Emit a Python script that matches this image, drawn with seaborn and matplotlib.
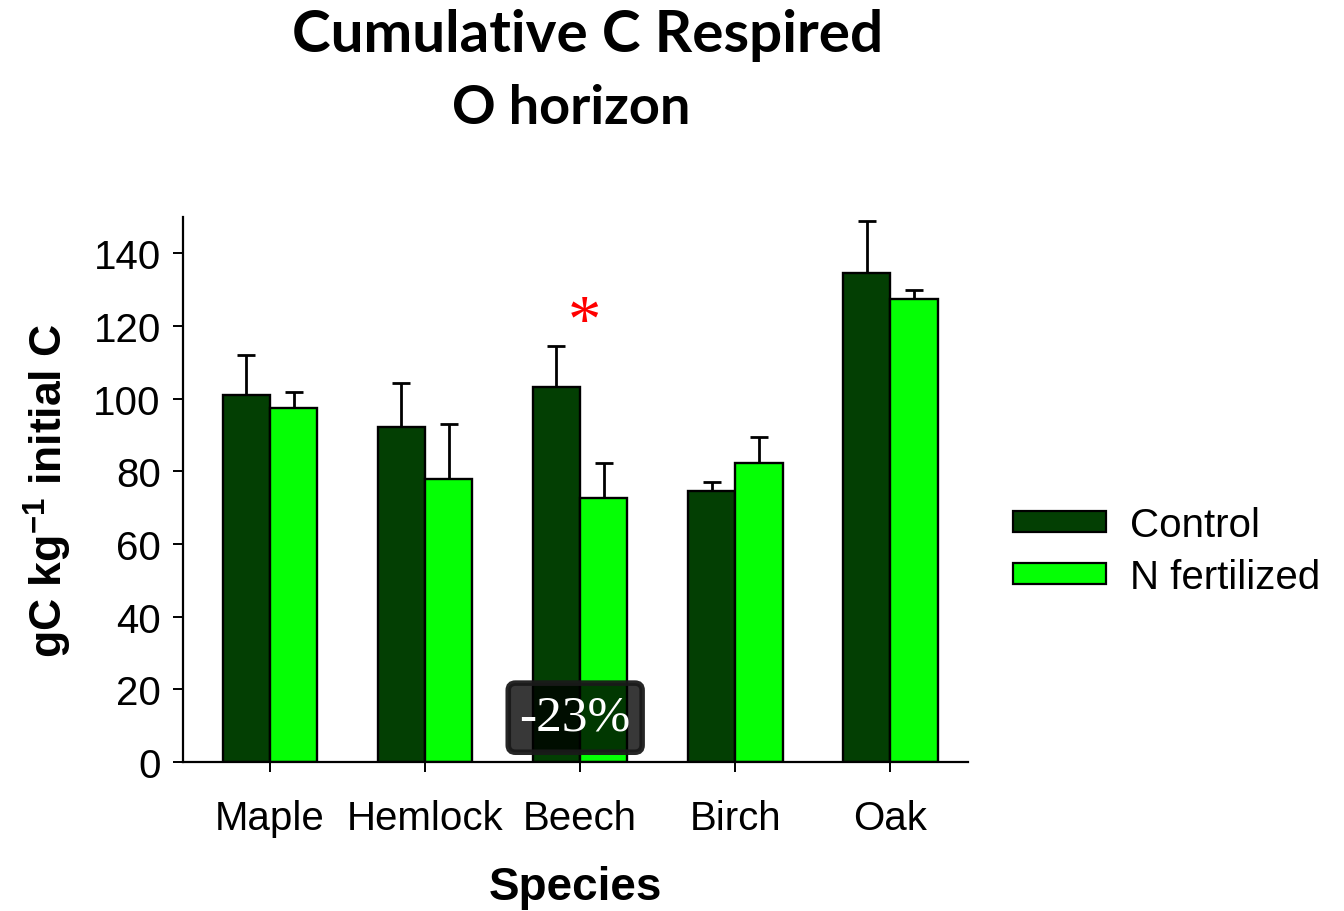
import numpy as np
import pandas as pd
import matplotlib
matplotlib.use("Agg")
import matplotlib.pyplot as plt
from matplotlib.patches import Patch
import seaborn as sns

species = ["Maple", "Hemlock", "Beech", "Birch", "Oak"]
treatments = ["Control", "N fertilized"]
control_mean = [101.1, 92.3, 103.1, 74.5, 134.7]
control_err = [10.8, 11.9, 11.3, 2.7, 14.3]
nfert_mean = [97.3, 78.0, 72.7, 82.4, 127.4]
nfert_err = [4.4, 15.1, 9.7, 7.1, 2.5]
colors = ["#033f03", "#05ff05"]
yticks = [0, 20, 40, 60, 80, 100, 120, 140]

sns.set_theme(style="ticks")
plt.rcParams["font.family"] = ["Liberation Sans", "DejaVu Sans"]
plt.rcParams.update({
    "text.color": "black", "axes.labelcolor": "black",
    "xtick.color": "black", "ytick.color": "black",
    "mathtext.fontset": "custom",
    "mathtext.rm": "Liberation Sans",
    "mathtext.bf": "Liberation Sans:bold",
})

df = pd.DataFrame({
    "Species": species * 2,
    "Treatment": [treatments[0]] * 5 + [treatments[1]] * 5,
    "Value": control_mean + nfert_mean,
})
errs = {treatments[0]: control_err, treatments[1]: nfert_err}

fig = plt.figure(figsize=(13.44, 9.12), dpi=100)
ax = fig.add_axes([183 / 1344, 1 - 763 / 912, (968 - 183) / 1344, (763 - 218) / 912])

sns.barplot(data=df, x="Species", y="Value", hue="Treatment", order=species,
            hue_order=treatments, palette=colors, width=0.61, errorbar=None,
            edgecolor="black", linewidth=1.7, saturation=1, ax=ax, legend=False,
            zorder=2)

for cont, t in zip(ax.containers, treatments):
    xs = [p.get_x() + p.get_width() / 2 for p in cont.patches]
    hs = [p.get_height() for p in cont.patches]
    e = errs[t]
    ax.errorbar(xs, hs, yerr=[np.zeros(len(e)), e], fmt="none", ecolor="black",
                elinewidth=2.0, capsize=6.2, capthick=2.0, zorder=1)

ax.set_ylim(0, 150)
ax.set_xlim(-0.56, 4.5)
ax.set_yticks(yticks)
ax.set_yticklabels([str(v) for v in yticks])
for s in ["top", "right"]:
    ax.spines[s].set_visible(False)
for s in ["left", "bottom"]:
    ax.spines[s].set_linewidth(1.6)
    ax.spines[s].set_color("black")
ax.tick_params(axis="both", direction="out", length=7, width=1.4, colors="black",
               labelsize=29)
ax.tick_params(axis="y", pad=9)
ax.tick_params(axis="x", pad=20)

ax.set_xlabel("Species", fontsize=33, fontweight="bold", labelpad=20)
ax.set_ylabel(r"gC kg$^{\mathbf{-1}}$ initial C", fontsize=32, fontweight="bold", labelpad=14)

# significance asterisk and annotation
ax.text(2.03, 120.8, "*", color="red", fontsize=48, ha="center", va="center",
        family=["Liberation Serif", "DejaVu Serif"], zorder=5)
ax.text(1.968, 12.2, "-23%", color="white", fontsize=37, ha="center", va="center",
        family=["Liberation Serif", "DejaVu Serif"], zorder=6,
        bbox=dict(boxstyle="round,pad=0.22,rounding_size=0.14",
                  facecolor=(0, 0, 0, 0.78), edgecolor=(0.1, 0.1, 0.1, 0.95),
                  linewidth=4))

handles = [Patch(facecolor=c, edgecolor="black", linewidth=1.6, label=t)
           for c, t in zip(colors, treatments)]
fig.legend(handles=handles, loc="center left", bbox_to_anchor=(0.742, 0.395),
           frameon=False, fontsize=29, handlelength=2.3, handleheight=0.42,
           handletextpad=0.6, labelspacing=0.35, borderaxespad=0)

fig.text(588 / 1344, 1 - 35 / 912, "Cumulative C Respired", ha="center", va="center",
         fontsize=42, fontweight="bold", family=["Lato", "DejaVu Sans"])
fig.text(571 / 1344, 1 - 108 / 912, "O horizon", ha="center", va="center",
         fontsize=39, fontweight="bold", family=["Lato", "DejaVu Sans"])

fig.savefig("out.png", dpi=100)
